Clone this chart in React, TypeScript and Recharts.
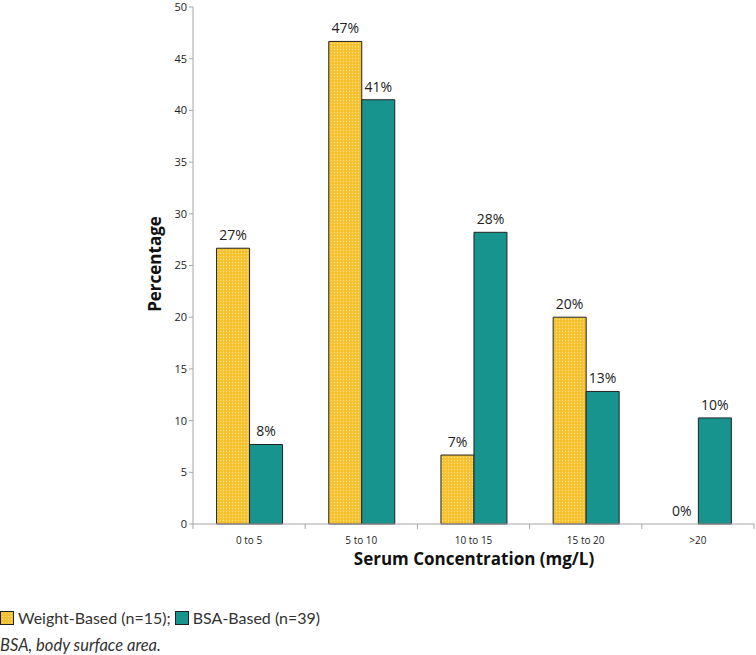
import React from 'react'
import { BarChart, Bar, XAxis, YAxis, LabelList, Label } from 'recharts'

const categories = ['0 to 5', '5 to 10', '10 to 15', '15 to 20', '>20']
const weightBased = [26.67, 46.67, 6.67, 20, 0]
const bsaBased = [7.69, 41.03, 28.21, 12.82, 10.26]
const weightLabels = ['27%', '47%', '7%', '20%', '0%']
const bsaLabels = ['8%', '41%', '28%', '13%', '10%']
const yTicks = [0, 5, 10, 15, 20, 25, 30, 35, 40, 45, 50]

const W = 756
const H = 582
const LEFT = 193
const RIGHT = 2
const BAND = (W - LEFT - RIGHT) / categories.length

const YELLOW = '#F6C12C'
const TEAL = '#18948F'
const AXIS = '#A6A6A6'
const FONT = '"Open Sans", "Liberation Sans", sans-serif'

const data = categories.map((c, i) => ({
  name: c,
  weight: weightBased[i],
  bsa: bsaBased[i],
  wLabel: weightLabels[i],
  bLabel: bsaLabels[i],
}))

function CatTick(props: any) {
  const { x, y, payload, index } = props
  const left = x - BAND / 2
  return (
    <g>
      <line x1={left} x2={left} y1={y - 8} y2={y - 3} stroke={AXIS} />
      {index === categories.length - 1 && (
        <line x1={x + BAND / 2} x2={x + BAND / 2} y1={y - 8} y2={y - 3} stroke={AXIS} />
      )}
      <text x={x} y={y + 12} textAnchor="middle" fontSize={10} fill="#222" fontFamily={FONT}>
        {payload.value}
      </text>
    </g>
  )
}

// draws the percent text above a bar, also for zero-height bars
function TopLabel(props: any) {
  const { x, y, width, value } = props
  return (
    <text x={x + width / 2} y={y - 8} textAnchor="middle" fontSize={14} fill="#222" fontFamily={FONT}>
      {value}
    </text>
  )
}

// Recharts drops the label of a zero-height weight bar; draw it from the teal bar's position
function BsaLabel(props: any) {
  const { x, y, width, value, index } = props
  const w = weightBased[index]
  return (
    <g>
      <text x={x + width / 2} y={y - 8} textAnchor="middle" fontSize={14} fill="#222" fontFamily={FONT}>
        {value}
      </text>
      {w === 0 && (
        <text x={x - width / 2} y={props.viewBox ? props.viewBox.y + props.viewBox.height - 8 : y - 8} textAnchor="middle" fontSize={14} fill="#222" fontFamily={FONT}>
          {weightLabels[index]}
        </text>
      )}
    </g>
  )
}

function LegendRow() {
  const item = (color: string, text: string, pattern?: boolean) => (
    <span style={{ display: 'inline-flex', alignItems: 'center', marginRight: 4 }}>
      <span
        style={{
          display: 'inline-block',
          width: 12,
          height: 12,
          background: color,
          border: '1px solid #222',
          marginRight: 4,
          backgroundImage: pattern ? 'radial-gradient(#FBE08C 0.8px, transparent 0.9px)' : undefined,
          backgroundSize: pattern ? '3px 3px' : undefined,
        }}
      />
      {text}
    </span>
  )
  return (
    <div style={{ fontFamily: 'Lato, "Noto Sans", sans-serif', fontSize: 16, color: '#333', lineHeight: '20px' }}>
      {item(YELLOW, 'Weight-Based (n=15);', true)}
      {item(TEAL, 'BSA-Based (n=39)')}
    </div>
  )
}

export default function App() {
  return (
    <div style={{ position: 'absolute', left: 0, top: 0, width: W, height: 655, background: '#fff' }}>
      <BarChart
        width={W}
        height={H}
        data={data}
        margin={{ top: 7, right: RIGHT, left: LEFT - 40, bottom: 0 }}
        barCategoryGap="21%"
        barGap={0}
      >
        <defs>
          <pattern id="dots" width="3" height="3" patternUnits="userSpaceOnUse">
            <rect width="3" height="3" fill={YELLOW} />
            <circle cx="1.5" cy="1.5" r="0.7" fill="#FBE08C" />
          </pattern>
        </defs>
        <XAxis
          dataKey="name"
          height={58}
          stroke={AXIS}
          tickLine={false}
          tick={<CatTick />}
          interval={0}
        >
          <Label
            content={() => (
              <text x={474} y={565} textAnchor="middle" fontSize={17} fontWeight="bold" fill="#111" fontFamily={FONT}>
                Serum Concentration (mg/L)
              </text>
            )}
          />
        </XAxis>
        <YAxis
          width={40}
          domain={[0, 50]}
          ticks={yTicks}
          stroke={AXIS}
          tickSize={4}
          tick={{ fontSize: 11, fill: '#222', fontFamily: FONT }}
          interval={0}
        >
          <Label
            content={() => (
              <text
                x={161}
                y={264}
                textAnchor="middle"
                fontSize={17}
                fontWeight="bold"
                fill="#111"
                fontFamily={FONT}
                transform="rotate(-90 161 264)"
              >
                Percentage
              </text>
            )}
          />
        </YAxis>
        <Bar dataKey="weight" fill="url(#dots)" stroke="#222" strokeWidth={1} isAnimationActive={false}>
          <LabelList dataKey="wLabel" content={<TopLabel />} />
        </Bar>
        <Bar dataKey="bsa" fill={TEAL} stroke="#222" strokeWidth={1} isAnimationActive={false}>
          <LabelList dataKey="bLabel" content={<BsaLabel />} />
        </Bar>
      </BarChart>
      <div style={{ position: 'absolute', left: 0, top: 608 }}>
        <LegendRow />
        <div style={{ fontFamily: 'Lato, "Noto Sans", sans-serif', fontSize: 16.5, fontStyle: 'italic', color: '#333', marginTop: 6 }}>
          BSA, body surface area.
        </div>
      </div>
    </div>
  )
}
